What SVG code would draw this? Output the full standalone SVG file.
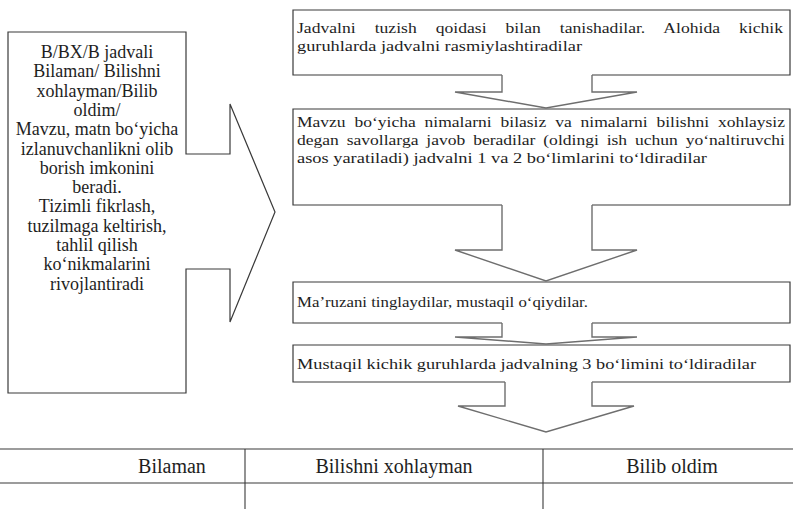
<svg xmlns="http://www.w3.org/2000/svg" width="793" height="509" viewBox="0 0 793 509">
<style>
.bg{fill:#ffffff}
.box{fill:none;stroke:#3a3a3a;stroke-width:1.2}
.arr{fill:none;stroke:#6e6e6e;stroke-width:1.4;stroke-linejoin:miter}
.tbl{stroke:#3a3a3a;stroke-width:1.1}
.t{fill:#1e1e1e;font-family:"Liberation Serif", "DejaVu Serif", serif}
.lt{font-size:18px;text-anchor:middle}
.rt{font-size:15.5px}
.th{font-size:20px;text-anchor:middle}
</style>
<rect class="bg" x="0" y="0" width="793" height="509"/>

<g id="left-callout">
<path class="box" d="M8,32 L186,32 L186,154 L230,154 L230,104 L275,212 L230,322 L230,269 L186,269 L186,393 L8,393 Z"/>
<text class="t lt" x="97" y="58">B/BX/B jadvali</text>
<text class="t lt" x="97" y="77.3">Bilaman/ Bilishni</text>
<text class="t lt" x="97" y="96.6">xohlayman/Bilib</text>
<text class="t lt" x="97" y="115.9">oldim/</text>
<text class="t lt" x="97" y="135.2">Mavzu, matn bo‘yicha</text>
<text class="t lt" x="97" y="154.5">izlanuvchanlikni olib</text>
<text class="t lt" x="97" y="173.8">borish imkonini</text>
<text class="t lt" x="97" y="193.1">beradi.</text>
<text class="t lt" x="97" y="212.4">Tizimli fikrlash,</text>
<text class="t lt" x="97" y="231.7">tuzilmaga keltirish,</text>
<text class="t lt" x="97" y="251">tahlil qilish</text>
<text class="t lt" x="97" y="270.3">ko‘nikmalarini</text>
<text class="t lt" x="97" y="289.6">rivojlantiradi</text>
</g>

<g id="step1">
<path class="box" d="M502,75 L293,75 L293,10 L790,10 L790,75 L592,75"/>
<text class="t rt" x="297" y="33" style="word-spacing:12.9px" textLength="486" lengthAdjust="spacingAndGlyphs">Jadvalni tuzish qoidasi bilan tanishadilar. Alohida kichik</text>
<text class="t rt" x="297" y="51" textLength="285" lengthAdjust="spacingAndGlyphs">guruhlarda jadvalni rasmiylashtiradilar</text>
</g>

<g id="step2">
<path class="box" d="M502,205 L293,205 L293,109 L790,109 L790,205 L592,205"/>
<text class="t rt" x="297" y="127" style="word-spacing:4px" textLength="488" lengthAdjust="spacingAndGlyphs">Mavzu bo‘yicha nimalarni bilasiz va nimalarni bilishni xohlaysiz</text>
<text class="t rt" x="297" y="145" style="word-spacing:3.1px" textLength="488" lengthAdjust="spacingAndGlyphs">degan savollarga javob beradilar (oldingi ish uchun yo‘naltiruvchi</text>
<text class="t rt" x="297" y="163" textLength="410" lengthAdjust="spacingAndGlyphs">asos yaratiladi) jadvalni 1 va 2 bo‘limlarini to‘ldiradilar</text>
</g>

<g id="step3">
<path class="box" d="M502,323 L293,323 L293,282 L790,282 L790,323 L592,323"/>
<text class="t rt" x="297" y="307" textLength="291" lengthAdjust="spacingAndGlyphs">Ma’ruzani tinglaydilar, mustaqil o‘qiydilar.</text>
</g>

<g id="step4">
<path class="box" d="M505,382 L293,382 L293,345 L790,345 L790,382 L592,382"/>
<text class="t rt" x="297" y="369" textLength="459" lengthAdjust="spacingAndGlyphs">Mustaqil kichik guruhlarda jadvalning 3 bo‘limini to‘ldiradilar</text>
</g>

<g id="connectors">
<path class="arr" d="M502,75 L502,92 L455,92 L546,108 L637,92 L592,92 L592,75"/>
<path class="arr" d="M502,205 L502,250 L455,250 L546,281 L637,250 L592,250 L592,205"/>
<path class="arr" d="M502,323 L502,337 L455,337 L546,344 L637,337 L592,337 L592,323"/>
<path class="arr" d="M505,382 L505,406 L458,406 L546,432 L634,406 L592,406 L592,382"/>
</g>

<g id="table">
<line class="tbl" x1="0" y1="449" x2="793" y2="449"/>
<line class="tbl" x1="0" y1="483" x2="793" y2="483"/>
<line class="tbl" x1="245" y1="449" x2="245" y2="509"/>
<line class="tbl" x1="543" y1="449" x2="543" y2="509"/>
<text class="t th" x="172" y="473">Bilaman</text>
<text class="t th" x="394" y="473">Bilishni xohlayman</text>
<text class="t th" x="672" y="473">Bilib oldim</text>
</g>
</svg>
